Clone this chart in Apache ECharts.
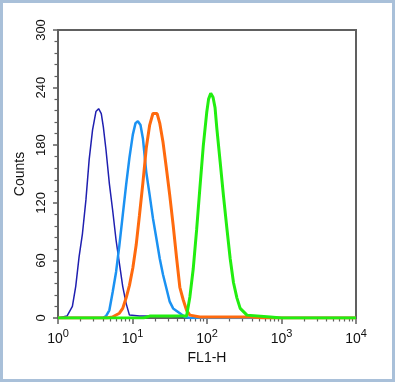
<!DOCTYPE html>
<html>
<head>
<meta charset="utf-8">
<script src="https://cdn.jsdelivr.net/npm/echarts@6/dist/echarts.min.js"></script>
<style>
html,body{margin:0;padding:0;background:#fff;}
#chart{position:absolute;left:0;top:0;width:395px;height:382px;}
#frame{position:absolute;left:0;top:0;width:395px;height:382px;box-sizing:border-box;border:3px solid #a9c0d9;pointer-events:none;}
</style>
</head>
<body>
<div id="chart"></div>
<div id="frame"></div>
<script>
// Channel (FL1-H) values and counts for each histogram
const darkBlueX = [1, 1.32, 1.56, 1.73, 1.92, 2.13, 2.37, 2.62, 2.91, 3.23, 3.51, 3.81, 4.06, 4.41, 4.89, 5.42, 6.02, 6.67, 7.39, 8.22, 9.1, 12.4, 17, 30, 45, 60, 10000];
const darkBlueY = [0, 2, 12, 33, 64, 88, 123, 165, 196, 215, 218, 213, 199, 175, 140, 112, 81, 57, 33, 15, 3, 2, 2, 2, 1, 0, 0];

const lightBlueX = [1, 4.0, 4.41, 4.89, 5.42, 6.02, 6.67, 7.39, 8.22, 9.1, 10.1, 10.98, 11.8, 12.8, 13.8, 15.3, 17.0, 18.8, 20.9, 23.2, 25.7, 28.5, 31.6, 35.1, 43.2, 50.4, 60, 10000];
const lightBlueY = [0, 0, 2, 8, 27, 48, 76, 107, 139, 167, 191, 203, 205, 201, 187, 152, 128, 104, 83, 62, 45, 31, 17, 10, 5, 1, 0, 0];

const orangeX = [1, 4.5, 5.37, 6.67, 7.39, 8.22, 9.1, 10.1, 11.2, 12.4, 13.8, 15.3, 17.0, 18.8, 19.8, 21.4, 23.2, 25.7, 28.5, 31.6, 35.1, 39.0, 43.2, 47.9, 53.2, 58.9, 80.4, 380, 600, 10000];
const orangeY = [0, 0, 1, 5, 10, 21, 34, 52, 76, 107, 141, 177, 201, 213, 215, 213, 203, 183, 156, 128, 97, 63, 32, 19, 8, 3, 1, 1, 0, 0];

const greenX = [1, 14, 17.0, 43.2, 53.2, 58.9, 65.3, 72.6, 80.4, 89.1, 99.1, 105, 112.2, 120.5, 128.3, 135.3, 150, 166, 184.5, 204.6, 226.6, 251.9, 279, 343.8, 710, 1000, 10000];
const greenY = [0, 0, 2, 2, 2, 22, 51, 92, 136, 179, 214, 228, 234, 230, 219, 198, 163, 128, 94, 62, 37, 21, 10, 3, 1, 0, 0];

const yTicks = [0, 60, 120, 180, 240, 300];
const xMajorTicks = [1, 10, 100, 1000, 10000];
const xMinorTicks = [];
for (let d = 1; d < 10000; d *= 10) { for (let k = 2; k <= 9; k++) xMinorTicks.push(k * d); }

function zip(xs, ys) { return xs.map((x, i) => [x, ys[i]]); }

const chart = echarts.init(document.getElementById('chart'));
const axisColor = '#606060';
const font = 'Liberation Sans, Arial, Helvetica, sans-serif';

chart.setOption({
  animation: false,
  backgroundColor: '#fff',
  grid: { left: 58, right: 39, top: 30, bottom: 64, show: true, borderColor: axisColor, borderWidth: 2, backgroundColor: 'transparent' },
  xAxis: [{
    type: 'log', logBase: 10, min: 1, max: 10000, position: 'bottom',
    name: 'FL1-H', nameLocation: 'middle', nameGap: 31,
    nameTextStyle: { color: '#111', fontSize: 14, fontFamily: font },
    axisLine: { show: true, lineStyle: { color: axisColor, width: 2 } },
    axisTick: { show: true, customValues: xMajorTicks, length: 6, lineStyle: { color: axisColor, width: 1.5 } },
    axisLabel: {
      margin: 10, color: '#111', fontFamily: font,
      formatter: function (v) { return '{b|10}{s|' + Math.round(Math.log10(v)) + '}'; },
      rich: {
        b: { fontSize: 14, fontFamily: font, color: '#111', verticalAlign: 'bottom', lineHeight: 18 },
        s: { fontSize: 11, fontFamily: font, color: '#111', verticalAlign: 'top', lineHeight: 11 }
      }
    },
    splitLine: { show: false }
  }, {
    type: 'log', logBase: 10, min: 1, max: 10000, position: 'bottom',
    axisLine: { show: false },
    axisTick: { show: true, customValues: xMinorTicks, length: 3.5, lineStyle: { color: axisColor, width: 1.2 } },
    axisLabel: { show: false },
    splitLine: { show: false }
  }],
  yAxis: {
    type: 'value', min: 0, max: 300, interval: 60,
    name: 'Counts', nameLocation: 'middle', nameGap: 26,
    nameTextStyle: { color: '#111', fontSize: 14, fontFamily: font },
    axisLine: { show: true, lineStyle: { color: axisColor, width: 2 } },
    axisTick: { show: true, length: 5, lineStyle: { color: axisColor, width: 1.5 } },
    minorTick: { show: true, splitNumber: 5, length: 3.5, lineStyle: { color: axisColor, width: 1.2 } },
    axisLabel: { rotate: 90, margin: 10, color: '#111', fontSize: 13, fontFamily: font,
      customValues: yTicks },
    splitLine: { show: false }
  },
  series: [
    { type: 'line', data: zip(darkBlueX, darkBlueY), showSymbol: false, lineStyle: { color: '#1f1fb0', width: 1.5 }, itemStyle: { color: '#1f1fb0' } },
    { type: 'line', data: zip(lightBlueX, lightBlueY), showSymbol: false, lineStyle: { color: '#1b92f2', width: 2.5 }, itemStyle: { color: '#1b92f2' } },
    { type: 'line', data: zip(orangeX, orangeY), showSymbol: false, lineStyle: { color: '#ff6a0e', width: 3 }, itemStyle: { color: '#ff6a0e' } },
    { type: 'line', data: zip(greenX, greenY), showSymbol: false, lineStyle: { color: '#22ee10', width: 3 }, itemStyle: { color: '#22ee10' } }
  ]
});
</script>
</body>
</html>
